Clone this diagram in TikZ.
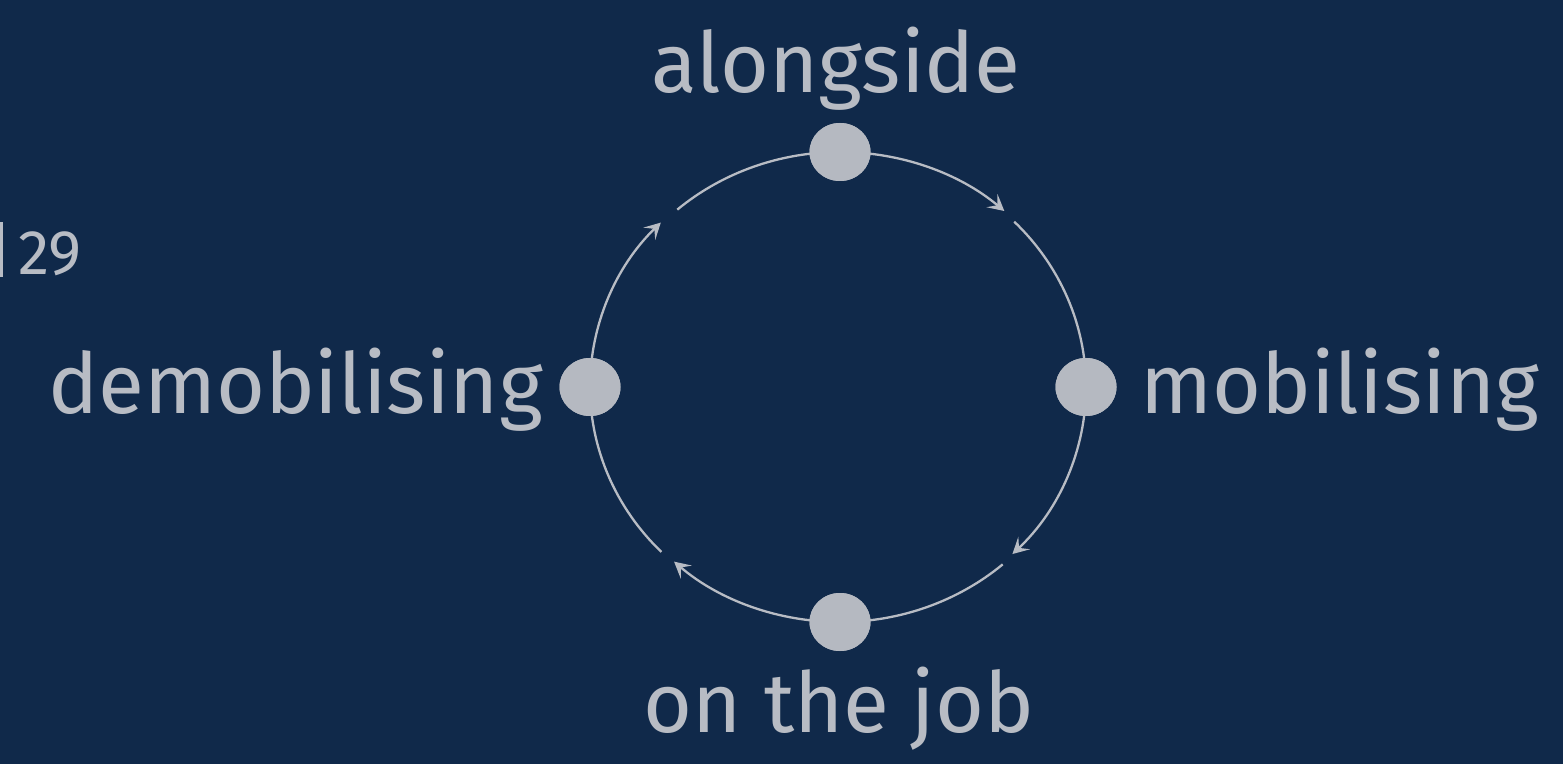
\documentclass[tikz,border=0pt]{standalone}
\usepackage{fontspec}
\setmainfont{Fira Sans}
\usetikzlibrary{shapes.geometric,arrows.meta}
\definecolor{bg}{HTML}{10294A}
\definecolor{fg}{HTML}{B8BCC4}
\definecolor{dot}{HTML}{B5B9C1}
\begin{document}
\begin{tikzpicture}[x=1pt,y=1pt,
  stage/.style={ellipse,fill=dot,draw=none,minimum width=61pt,minimum height=58pt,inner sep=0pt},
  lab/.style={text=fg,inner sep=0pt,font=\fontsize{84}{84}\selectfont},
  ring/.style={draw=fg,line width=2.3pt},
  flow/.style={ring,-{Stealth[length=16pt,width=17pt,inset=7pt]}},
  rx/.style={x radius=248,y radius=235}]
\useasboundingbox (0,0) rectangle (1563,764);
\fill[bg] (0,0) rectangle (1563,764);
% nodes
\node[stage] (top) at (840,612) {};
\node[stage] (right) at (1086,377) {};
\node[stage] (bottom) at (840,142) {};
\node[stage] (left) at (590,377) {};
% arcs
\draw[flow] (top.center) arc[start angle=90,end angle=48.5,rx];
\draw[ring] (right.center) arc[start angle=0,end angle=44.7,rx];
\draw[flow] (right.center) arc[start angle=0,end angle=-45.3,rx];
\draw[ring] (bottom.center) arc[start angle=-90,end angle=-49,rx];
\draw[flow] (bottom.center) arc[start angle=270,end angle=228,rx];
\draw[ring] (left.center) arc[start angle=180,end angle=224.6,rx];
\draw[flow] (left.center) arc[start angle=180,end angle=135.6,rx];
\draw[ring] (top.center) arc[start angle=90,end angle=131,rx];
% redraw nodes on top
\node[stage] at (top) {};
\node[stage] at (right) {};
\node[stage] at (bottom) {};
\node[stage] at (left) {};
% labels
\node[lab,anchor=base] (talong) at (836,671) {alongside};
\node[lab,anchor=base west] (tmob) at (1140,351) {mobilising};
\node[lab,anchor=base east] (tdemob) at (543,351) {demobilising};
\node[lab,anchor=base] (tjob) at (839,32) {on the job};
% page number
\fill[fg] (0,487) rectangle (3,542);
\node[text=fg,inner sep=0pt,anchor=base west,font=\fontsize{63}{63}\selectfont] (num) at (18,489) {29};
\end{tikzpicture}
\end{document}
